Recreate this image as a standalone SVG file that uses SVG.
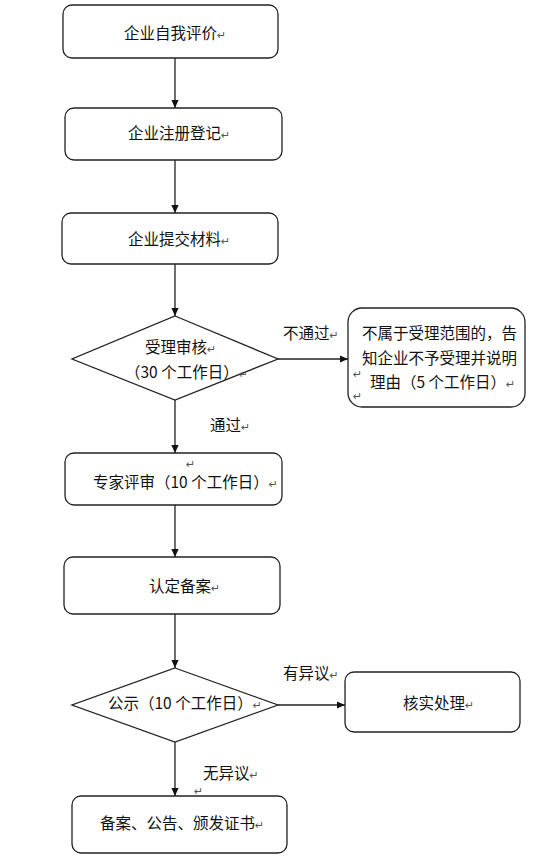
<svg xmlns="http://www.w3.org/2000/svg" width="552" height="856" viewBox="0 0 552 856">
<defs>
<style>
.box{fill:#fff;stroke:#222;stroke-width:1.3}
.t{font-family:"Noto Sans CJK SC","Liberation Sans",sans-serif;font-size:15.5px;fill:#111}
.pm{font-family:"DejaVu Sans",sans-serif;font-size:11px;fill:#555}
.c{stroke:#222;stroke-width:1.3;fill:none;marker-end:url(#ah)}
</style>
<marker id="ah" viewBox="0 0 10 10" refX="10" refY="5" markerWidth="8" markerHeight="8" markerUnits="userSpaceOnUse" orient="auto">
<path d="M0,0.5 L10,5 L0,9.5 z" fill="#111"/>
</marker>
</defs>
<rect width="552" height="856" fill="#fff"/>
<g id="connectors">
<line class="c" x1="175" y1="58" x2="175" y2="108"/>
<line class="c" x1="175" y1="160" x2="175" y2="213"/>
<line class="c" x1="175" y1="264" x2="175" y2="316"/>
<line class="c" x1="278" y1="359" x2="348" y2="359"/>
<line class="c" x1="175" y1="400" x2="175" y2="453"/>
<line class="c" x1="175" y1="505" x2="175" y2="557"/>
<line class="c" x1="175" y1="614" x2="175" y2="668"/>
<line class="c" x1="278" y1="705" x2="345" y2="705"/>
<line class="c" x1="175" y1="742" x2="175" y2="796"/>
<text class="t" x="283" y="339">不通过<tspan class="pm">↵</tspan></text>
<text class="t" x="210" y="431">通过<tspan class="pm">↵</tspan></text>
<text class="t" x="283" y="679">有异议<tspan class="pm">↵</tspan></text>
<text class="t" x="203" y="779">无异议<tspan class="pm">↵</tspan></text>
<text class="pm" x="194" y="795">↵</text>
</g>
<g id="n1">
<rect class="box" x="63" y="5" width="215" height="53" rx="9"/>
<text class="t" x="124" y="39">企业自我评价<tspan class="pm">↵</tspan></text>
</g>
<g id="n2">
<rect class="box" x="65" y="108" width="217" height="52" rx="9"/>
<text class="t" x="128" y="139">企业注册登记<tspan class="pm">↵</tspan></text>
</g>
<g id="n3">
<rect class="box" x="62" y="213" width="216" height="51" rx="9"/>
<text class="t" x="128" y="245">企业提交材料<tspan class="pm">↵</tspan></text>
</g>
<g id="n4">
<polygon class="box" points="175,316 278,359 175,400 72,359"/>
<text class="t" x="145" y="353">受理审核<tspan class="pm">↵</tspan></text>
<text class="t" x="125" y="378">（30 个工作日）<tspan class="pm">↵</tspan></text>
</g>
<g id="n5">
<rect class="box" x="348" y="308" width="177" height="99" rx="14"/>
<text class="t" x="362" y="339">不属于受理范围的，告</text>
<text class="t" x="362" y="364">知企业不予受理并说明</text>
<text class="t" x="370" y="388">理由（5 个工作日）<tspan class="pm">↵</tspan></text>
<text class="pm" x="353" y="378">↵</text>
<text class="pm" x="353" y="400">↵</text>
</g>
<g id="n6">
<rect class="box" x="65" y="453" width="217" height="52" rx="9"/>
<text class="pm" x="186" y="468">↵</text>
<text class="t" x="93" y="488">专家评审（10 个工作日）<tspan class="pm">↵</tspan></text>
</g>
<g id="n7">
<rect class="box" x="64" y="557" width="216" height="57" rx="9"/>
<text class="t" x="149" y="592">认定备案<tspan class="pm">↵</tspan></text>
</g>
<g id="n8">
<polygon class="box" points="175,668 278,705 175,742 72,705"/>
<text class="t" x="108" y="709">公示（10 个工作日）<tspan class="pm">↵</tspan></text>
</g>
<g id="n9">
<rect class="box" x="345" y="672" width="175" height="60" rx="9"/>
<text class="t" x="403" y="709">核实处理<tspan class="pm">↵</tspan></text>
</g>
<g id="n10">
<rect class="box" x="72" y="796" width="215" height="57" rx="9"/>
<text class="t" x="100" y="829">备案、公告、颁发证书<tspan class="pm">↵</tspan></text>
</g>
</svg>
